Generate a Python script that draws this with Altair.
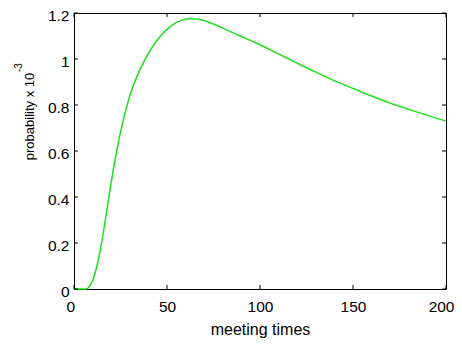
import altair as alt
import pandas as pd

# curve
x_vals = [0, 4, 6, 7, 8, 9, 10, 11, 12, 13, 14, 15, 16, 17, 18, 19, 20, 21, 22, 23, 24, 25,
          26, 27, 28, 29, 30, 31, 32, 33, 35, 38, 41, 44, 47, 50, 54, 58, 62, 66, 70, 75,
          80, 85, 90, 95, 100, 110, 120, 130, 140, 150, 160, 170, 180, 190, 200]
y_vals = [0, 0, 0, 0.002, 0.008, 0.02, 0.037, 0.06, 0.09, 0.125, 0.165, 0.21, 0.258, 0.308,
          0.36, 0.412, 0.463, 0.512, 0.558, 0.602, 0.643, 0.682,
          0.718, 0.752, 0.783, 0.812, 0.839, 0.864, 0.887, 0.908, 0.946, 0.995, 1.038, 1.074,
          1.104, 1.129, 1.154, 1.169, 1.175, 1.174, 1.167, 1.152,
          1.134, 1.116, 1.098, 1.08, 1.062, 1.022, 0.982, 0.943, 0.906, 0.872, 0.839,
          0.808, 0.781, 0.755, 0.73]

x_ticks = [0, 50, 100, 150, 200]
y_ticks = [0, 0.2, 0.4, 0.6, 0.8, 1, 1.2]

W, H = 372, 276
FONT = "Liberation Sans"

df = pd.DataFrame({"x": x_vals, "y": y_vals})
xt = pd.DataFrame({"x": x_ticks})
yt = pd.DataFrame({"y": y_ticks})

xscale = alt.Scale(domain=[0, 200], nice=False, zero=False)
yscale = alt.Scale(domain=[0, 1.2], nice=False, zero=False)

x_axis = alt.Axis(values=x_ticks, title="meeting times", grid=False, ticks=False,
                  tickSize=0, domain=False, labelPadding=10, labelFontSize=15.5,
                  labelFont=FONT, labelColor="black", labelFlush=True,
                  labelFlushOffset=8,
                  labelOverlap=False, labelBound=False, titleFont=FONT,
                  titleFontSize=16, titleFontWeight="normal", titleColor="black",
                  titleBaseline="alphabetic", titleY=45, titleX=W / 2,
                  titleAlign="center")
y_axis = alt.Axis(values=y_ticks, format="~g", title="probability x 10", grid=False,
                  ticks=False, tickSize=0, domain=False, labelPadding=5, labelOffset=2,
                  labelFontSize=15.5, labelFont=FONT, labelColor="black",
                  labelFlush=False, labelOverlap=False, labelBound=False,
                  titleFont=FONT, titleFontSize=13, titleFontWeight="normal",
                  titleColor="black", titleAngle=270, titleBaseline="alphabetic",
                  titleAlign="center", titleX=-41, titleY=103)

X = alt.X("x:Q", scale=xscale, axis=x_axis)
Y = alt.Y("y:Q", scale=yscale, axis=y_axis)

line = alt.Chart(df).mark_line(color="#1ee01e", strokeWidth=1.5, interpolate="monotone").encode(
    x=X, y=Y)

tick_len = 4
xb = alt.Chart(xt).mark_rule(color="black", strokeWidth=1).encode(
    x=X, y=alt.value(H), y2=alt.value(H - tick_len))
xtop = alt.Chart(xt).mark_rule(color="black", strokeWidth=1).encode(
    x=X, y=alt.value(0), y2=alt.value(tick_len))
yl = alt.Chart(yt).mark_rule(color="black", strokeWidth=1).encode(
    y=Y, x=alt.value(0), x2=alt.value(tick_len))
yr = alt.Chart(yt).mark_rule(color="black", strokeWidth=1).encode(
    y=Y, x=alt.value(W), x2=alt.value(W - tick_len))

sup = alt.Chart(pd.DataFrame({"t": ["-3"]})).mark_text(
    font=FONT, fontSize=10, angle=270, align="left", baseline="alphabetic", color="black"
).encode(text="t:N", x=alt.value(-52), y=alt.value(59))

chart = alt.layer(line, xb, xtop, yl, yr, sup).properties(
    width=W, height=H,
    autosize=alt.AutoSizeParams(type="none"),
    padding={"left": 66, "top": 5, "right": 8, "bottom": 50},
    background="white",
).configure_view(stroke="black", strokeWidth=1)

chart.save("out.html", embed_options={"renderer": "svg", "actions": False})
